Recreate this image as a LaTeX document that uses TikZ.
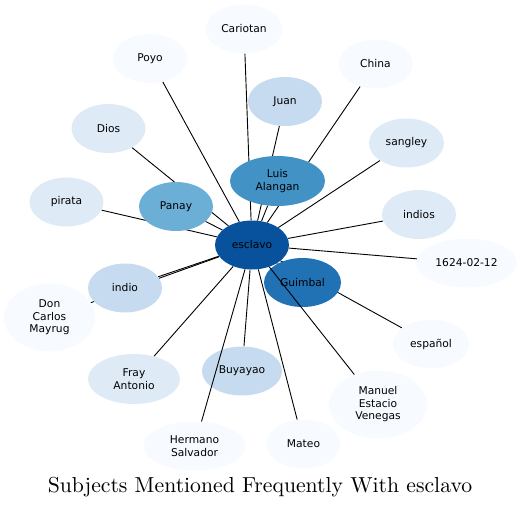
\documentclass[tikz,border=0pt]{standalone}
\usepackage{fontspec}
\newfontfamily\labelfont{DejaVu Sans}
\newfontfamily\titlefont{lmroman10-regular}[Extension=.otf]
\usepackage{tikz}
\usetikzlibrary{shapes.geometric}

\pgfdeclarelayer{edges}
\pgfsetlayers{edges,main}

\definecolor{blues0}{HTML}{F7FBFF}
\definecolor{blues1}{HTML}{DEEBF7}
\definecolor{blues2}{HTML}{C6DBEF}
\definecolor{blues3}{HTML}{6BAED6}
\definecolor{blues4}{HTML}{4292C6}
\definecolor{blues5}{HTML}{2171B5}
\definecolor{blues6}{HTML}{08519C}

\begin{document}
\begin{tikzpicture}[
  x=1pt, y=-1pt,
  subject/.style={
    ellipse,
    fill=#1,
    inner sep=0pt,
    minimum width=74pt,
    minimum height=49pt,
    align=center,
    font=\labelfont\fontsize{10.7}{12.5}\selectfont
  },
  link/.style={draw=black, line width=0.9pt}]

\useasboundingbox (0,0) rectangle (521,508);

% central subject
\node[subject=blues6] (esclavo) at (252,245) {esclavo};

% subjects mentioned with it
\node[subject=blues0, minimum width=77pt] (cariotan) at (244,29) {Cariotan};
\node[subject=blues0] (poyo) at (150,58.5) {Poyo};
\node[subject=blues0] (china) at (375.5,64) {China};
\node[subject=blues2] (juan) at (285,101.5) {Juan};
\node[subject=blues1] (dios) at (108.5,128.5) {Dios};
\node[subject=blues1, minimum width=75pt] (sangley) at (406.5,143) {sangley};
\node[subject=blues4, minimum width=95pt, minimum height=50pt] (luis) at (277.5,181) {Luis\\Alangan};
\node[subject=blues3] (panay) at (176,206.5) {Panay};
\node[subject=blues1] (pirata) at (66.5,202) {pirata};
\node[subject=blues1] (indios) at (419,214.5) {indios};
\node[subject=blues0, minimum width=100pt] (date) at (466.5,263) {1624-02-12};
\node[subject=blues5, minimum width=77pt] (guimbal) at (302.5,282.5) {Guimbal};
\node[subject=blues2] (indio) at (125,288) {indio};
\node[subject=blues0, minimum width=91pt, minimum height=68pt] (carlos) at (49.5,317.5) {Don\\Carlos\\Mayrug};
\node[subject=blues0, minimum width=76pt] (espanol) at (431,344) {español};
\node[subject=blues1, minimum width=92pt, minimum height=50pt] (fray) at (134,379) {Fray\\Antonio};
\node[subject=blues2, minimum width=80pt] (buyayao) at (242,371) {Buyayao};
\node[subject=blues0, minimum width=98pt, minimum height=68pt] (manuel) at (378,404.5) {Manuel\\Estacio\\Venegas};
\node[subject=blues0, minimum width=102pt] (hermano) at (194.5,446) {Hermano\\Salvador};
\node[subject=blues0] (mateo) at (303.5,444) {Mateo};

% links, kept under the nodes
\begin{pgfonlayer}{edges}
  \foreach \other in {cariotan,poyo,china,juan,dios,sangley,luis,panay,
    pirata,indios,date,guimbal,indio,carlos,espanol,fray,buyayao,mateo}
    \draw[link] (esclavo) -- (\other);
\end{pgfonlayer}

% these two run over guimbal and buyayao
\draw[link] (esclavo) -- (manuel);
\draw[link] (esclavo) -- (hermano);

% title
\node[font=\titlefont\fontsize{21.7}{26}\selectfont] (title) at (260,487) {Subjects Mentioned Frequently With esclavo};

\end{tikzpicture}
\end{document}
